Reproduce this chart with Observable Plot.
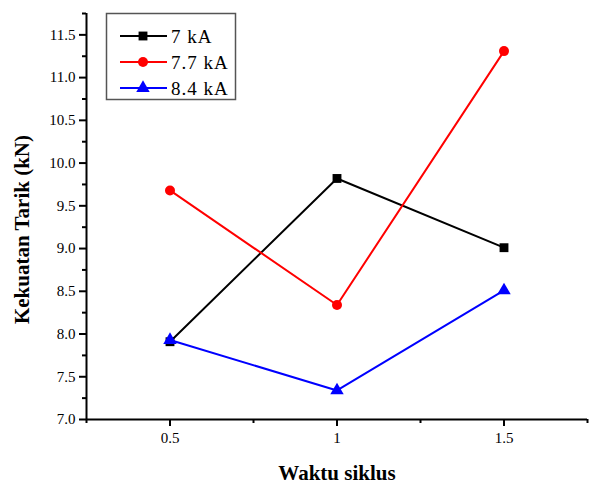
<!DOCTYPE html>
<html>
<head>
<meta charset="utf-8">
<script src="https://cdn.jsdelivr.net/npm/d3@7"></script>
<script src="https://cdn.jsdelivr.net/npm/@observablehq/plot@0.6"></script>
<style>
  html, body { margin: 0; padding: 0; background: #fff; }
  #wrap { position: relative; width: 592px; height: 483px; }
  #legend { position: absolute; left: 0; top: 0; }
  #wrap svg text { font-family: "Liberation Serif", "Times New Roman", serif; }
</style>
</head>
<body>
<div id="wrap"></div>
<script>
// ---- data ----
const cycles = [0.5, 1, 1.5];
const seriesNames = ["7 kA", "7.7 kA", "8.4 kA"];
const values7 = [7.91, 9.82, 9.01];
const values77 = [9.68, 8.34, 11.31];
const values84 = [7.93, 7.34, 8.51];
const seriesColors = ["#000000", "#ff0000", "#0000ff"];
const seriesSymbols = ["square", "circle", "triangle"];
const xMajorTicks = [0.5, 1, 1.5];
const xMinorTicks = [0.25, 0.75, 1.25, 1.75];
const yMajorTicks = [7.0, 7.5, 8.0, 8.5, 9.0, 9.5, 10.0, 10.5, 11.0, 11.5];
const yMinorTicks = [7.25, 7.75, 8.25, 8.75, 9.25, 9.75, 10.25, 10.75, 11.25, 11.75];
const xTitle = "Waktu siklus";
const yTitle = "Kekuatan Tarik (kN)";

const allValues = [values7, values77, values84];
const rows = [];
seriesNames.forEach((s, i) => cycles.forEach((c, j) => rows.push({series: s, x: c, y: allValues[i][j]})));

const font = "Liberation Serif";

const chart = Plot.plot({
  width: 592,
  height: 483,
  marginLeft: 86,
  marginRight: 5,
  marginTop: 13,
  marginBottom: 64,
  style: {fontFamily: font, background: "#fff"},
  x: {domain: [0.25, 1.75]},
  y: {domain: [7, 11.75]},
  color: {domain: seriesNames, range: seriesColors},
  symbol: {domain: seriesNames, range: seriesSymbols},
  marks: [
    Plot.line(rows, {x: "x", y: "y", z: "series", stroke: "series", strokeWidth: 2}),
    Plot.dot(rows, {x: "x", y: "y", symbol: "series", fill: "series", r: 5}),
    Plot.axisX({ticks: xMajorTicks, tickSize: 7, tickPadding: 6, strokeWidth: 2, stroke: "#000",
      tickFormat: d => String(d), fontSize: 15, fontFamily: font, label: null, fill: "#000"}),
    Plot.axisX({ticks: xMinorTicks, tickSize: 4, strokeWidth: 2, stroke: "#000", tickFormat: null, text: null, label: null}),
    Plot.axisY({ticks: yMajorTicks, tickSize: 7, tickPadding: 4, strokeWidth: 2, stroke: "#000",
      tickFormat: d => d.toFixed(1), fontSize: 15, fontFamily: font, label: null, fill: "#000"}),
    Plot.axisY({ticks: yMinorTicks, tickSize: 4, strokeWidth: 2, stroke: "#000", tickFormat: null, text: null, label: null}),
    Plot.ruleX([0.25], {stroke: "#000", strokeWidth: 2}),
    Plot.ruleY([7], {stroke: "#000", strokeWidth: 2}),
    Plot.text([xTitle], {text: d => d, frameAnchor: "bottom", textAnchor: "middle", dy: 60, fontSize: 21, fontWeight: "bold", fontFamily: font, fill: "#000"}),
    Plot.text([yTitle], {text: d => d, frameAnchor: "left", textAnchor: "middle", dx: -64, dy: 13, rotate: -90, fontSize: 21, fontWeight: "bold", fontFamily: font, fill: "#000"})
  ]
});
document.getElementById("wrap").appendChild(chart);

// ---- legend overlay ----
const lg = d3.select("#wrap").append("svg").attr("id", "legend")
  .attr("width", 592).attr("height", 483);
lg.append("rect").attr("x", 106.5).attr("y", 13.5).attr("width", 129).attr("height", 86)
  .attr("fill", "#fff").attr("stroke", "#555").attr("stroke-width", 1.5);
const symMap = {square: d3.symbolSquare, circle: d3.symbolCircle, triangle: d3.symbolTriangle};
seriesNames.forEach((s, i) => {
  const y = 36 + i * 26;
  lg.append("line").attr("x1", 120).attr("x2", 167).attr("y1", y).attr("y2", y)
    .attr("stroke", seriesColors[i]).attr("stroke-width", 2);
  lg.append("path").attr("transform", `translate(143,${y})`)
    .attr("d", d3.symbol(symMap[seriesSymbols[i]], Math.PI * 25)())
    .attr("fill", seriesColors[i]);
  lg.append("text").attr("x", 171).attr("y", y).attr("dy", "0.35em")
    .attr("font-family", font).attr("font-size", 19).attr("letter-spacing", "1px")
    .attr("fill", "#000").text(s);
});
</script>
</body>
</html>
